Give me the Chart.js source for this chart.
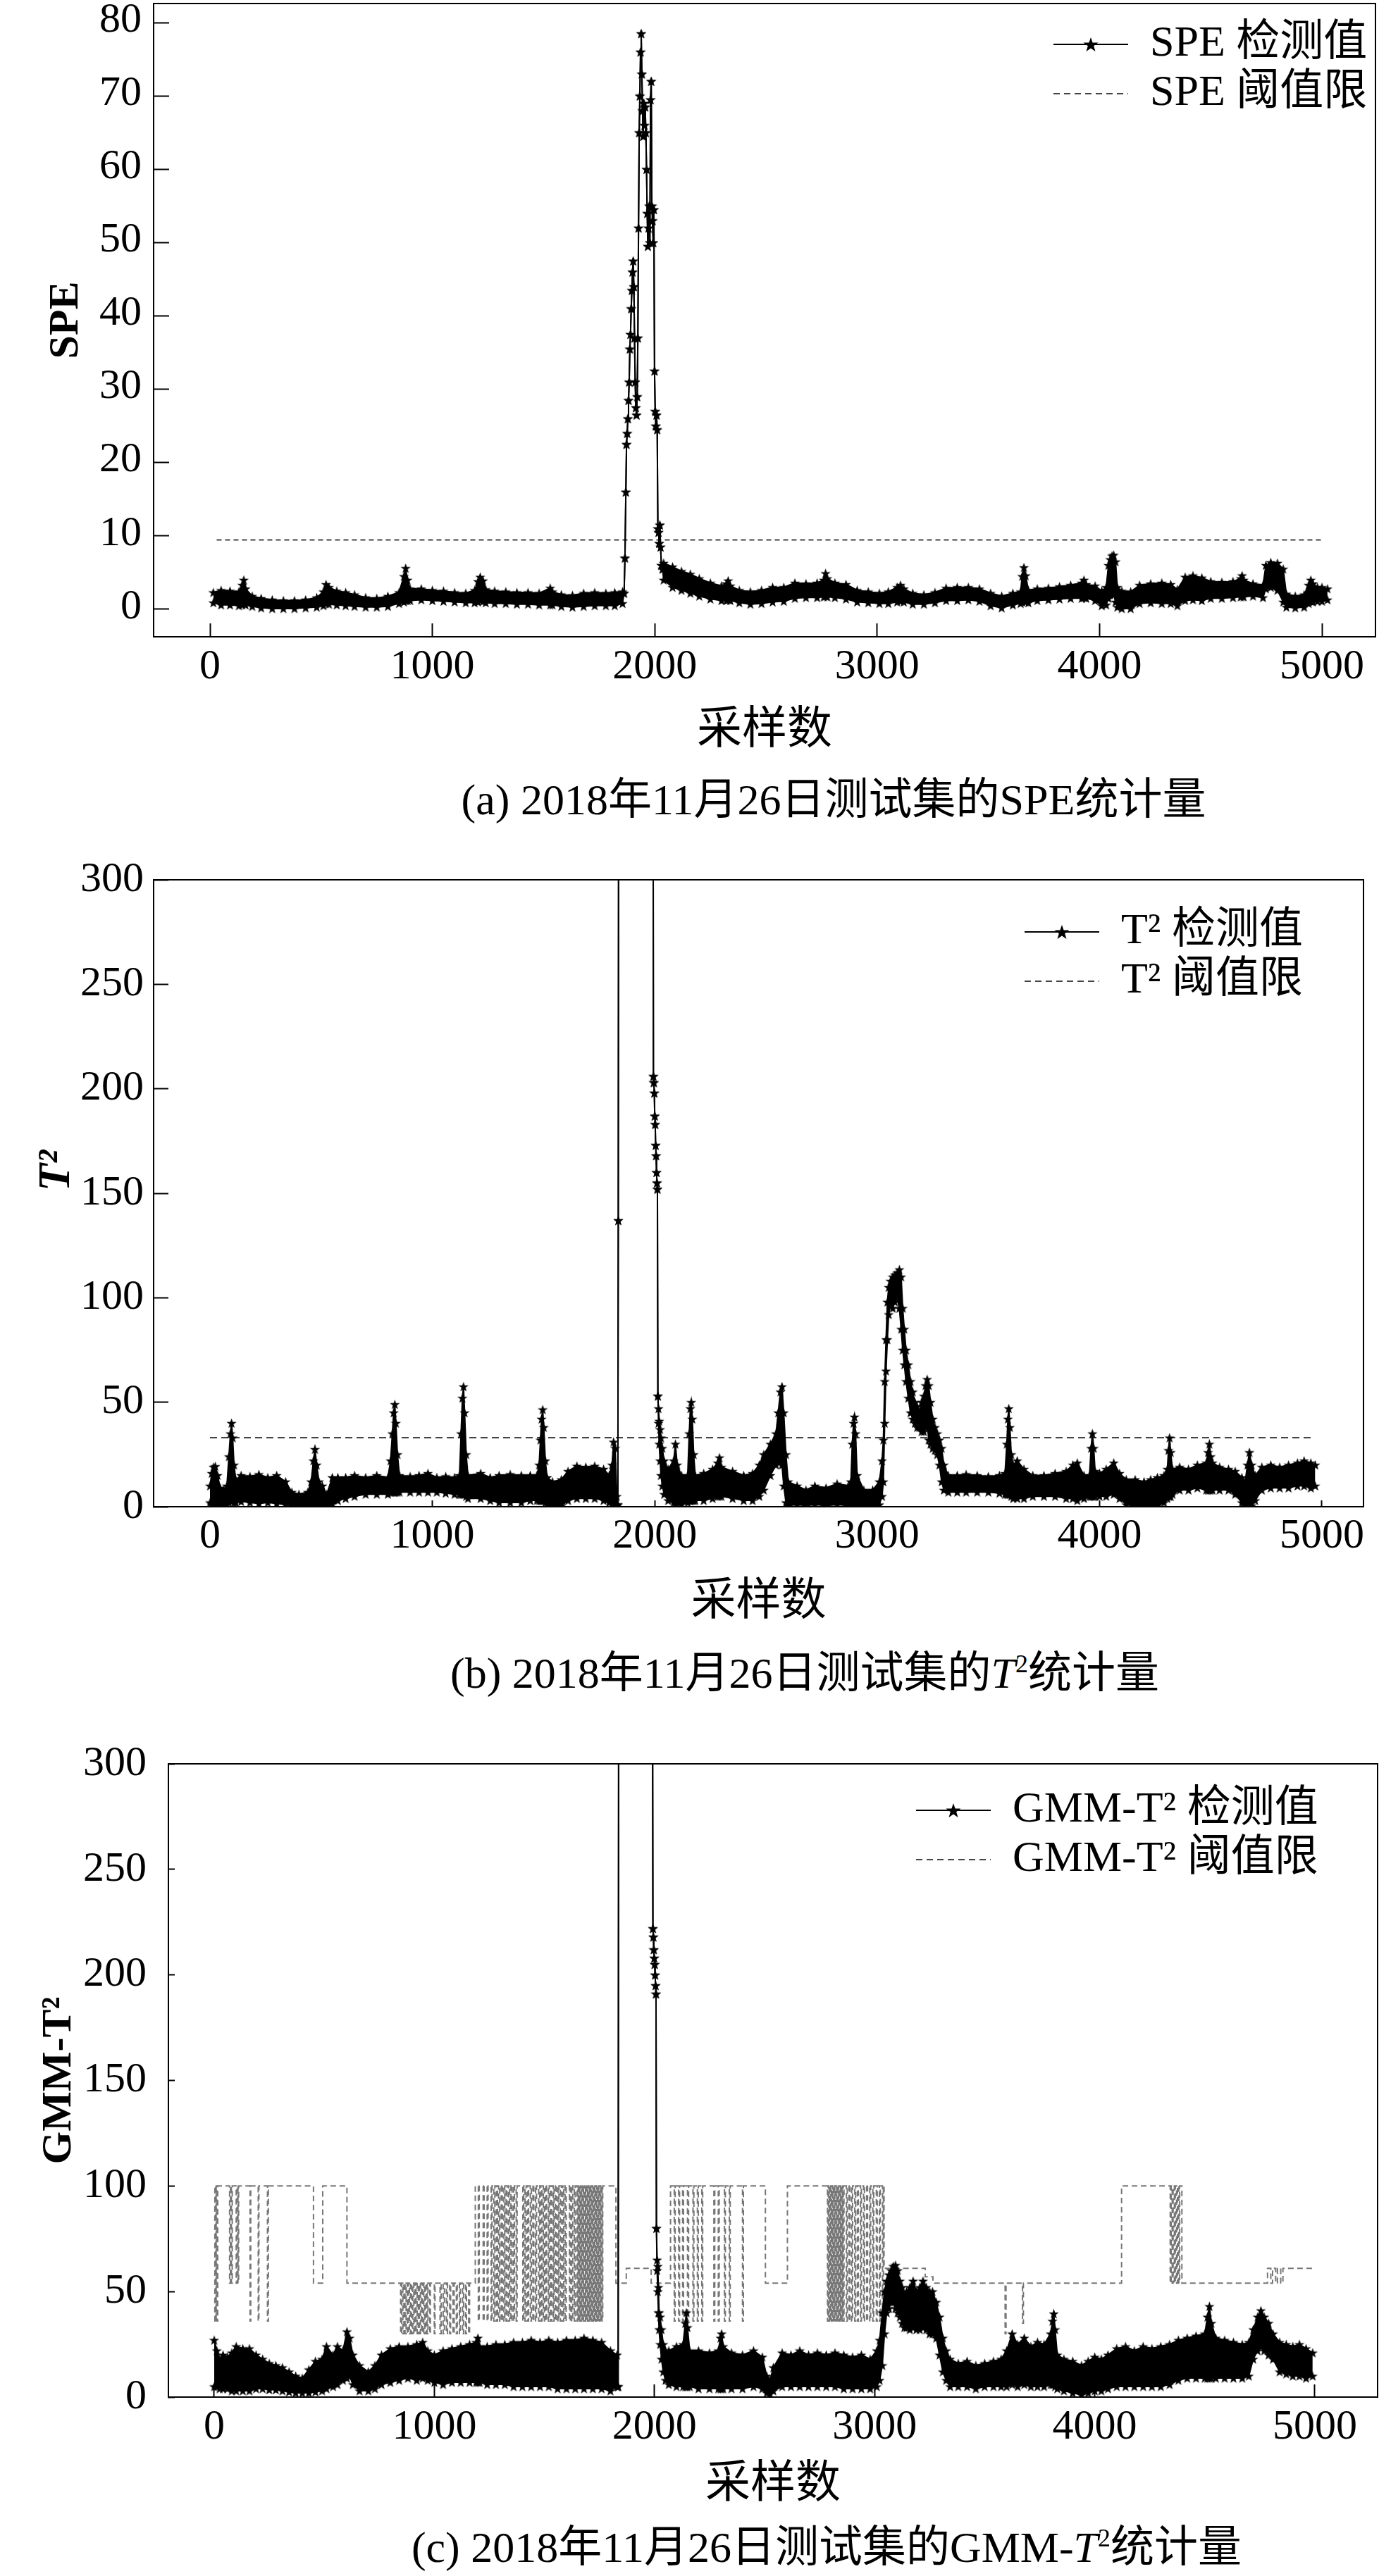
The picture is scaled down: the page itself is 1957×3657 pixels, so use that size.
<!DOCTYPE html>
<html lang="zh">
<head>
<meta charset="utf-8">
<title>SPE / T2 / GMM-T2 统计量</title>
<script src="https://cdn.jsdelivr.net/npm/chart.js@4.4.1/dist/chart.umd.min.js"></script>
<style>
  html, body { margin:0; padding:0; background:#fff; }
  body { position:relative; width:1957px; height:3657px; overflow:hidden; }
  canvas { position:absolute; left:0; }
  .cap { position:absolute; white-space:nowrap; color:#000; font-family:'Liberation Serif','Noto Sans CJK SC',serif; font-size:62px; line-height:62px; transform:translateX(-50%); }
  .cap sup { font-size:36px; line-height:0; vertical-align:22px; }
</style>
</head>
<body>
<canvas id="chartA" width="1957" height="1110" style="top:0px;width:1957px;height:1110px"></canvas>
<canvas id="chartB" width="1957" height="1130" style="top:1200px;width:1957px;height:1130px"></canvas>
<canvas id="chartC" width="1957" height="1150" style="top:2460px;width:1957px;height:1150px"></canvas>
<div class="cap" style="left:1183px;top:1104px">(a) 2018年11月26日测试集的SPE统计量</div>
<div class="cap" style="left:1142px;top:2344px">(b) 2018年11月26日测试集的<i>T</i><sup>2</sup>统计量</div>
<div class="cap" style="left:1173px;top:3585px">(c) 2018年11月26日测试集的GMM-<i>T</i><sup>2</sup>统计量</div>
<script>
// ---------------- tick labels ----------------
const xTickValues = [0, 1000, 2000, 3000, 4000, 5000];
const speYTicks = [0, 10, 20, 30, 40, 50, 60, 70, 80];
const t2YTicks = [0, 50, 100, 150, 200, 250, 300];
const gmmYTicks = [0, 50, 100, 150, 200, 250, 300];

// ---------------- (a) SPE: sample index, upper / lower edge of the plotted trace ----------------
const speX = [15,50,90,130,145,152,160,190,230,280,
  330,380,430,480,510,522,535,570,610,650,
  700,750,800,850,872,880,888,900,950,1000,
  1050,1100,1150,1190,1205,1215,1228,1240,1280,1330,
  1380,1430,1480,1530,1540,1580,1630,1680,1730,1780,
  1820,1855,
  1862,1866,1870,1873,1876,1879,1882,1885,1888,1891,
  1894,1897,1900,1903,1906,1909,1912,1915,1918,1921,
  1924,1927,1930,1933,1936,1939,1942,1945,1948,1951,
  1954,1957,1960,1963,1966,1969,1972,1975,1978,1981,
  1984,1987,1990,1993,1996,1999,2002,2005,2008,2011,
  2014,2017,2020,2023,2026,2030,2035,
  2040,2080,2120,2160,2200,2250,2300,2322,2330,2340,
  2380,2430,2480,2530,2580,2630,2680,2730,2760,2768,
  2776,2810,2860,2910,2960,3010,3050,3090,3105,3120,
  3160,3210,3260,3310,3360,3410,3460,3510,3560,3610,
  3645,3652,3660,3668,3680,3720,3770,3820,3870,3920,
  3930,3940,3980,4010,4030,4040,4048,4056,4064,4072,
  4080,4100,4140,4180,4230,4280,4320,4350,4385,4420,
  4460,4500,4550,4600,4635,4641,4648,4690,4735,4748,
  4770,4800,4826,4840,4880,4920,4940,4950,4960,4980,
  5000,5025];
const speHi = [2.3,2.6,2.5,2.4,3.3,4.0,2.8,1.8,1.5,1.3,
  1.2,1.2,1.3,1.6,2.4,3.4,3.0,2.5,2.3,2.0,
  1.6,1.5,1.8,2.3,4.5,5.6,4.0,2.8,2.8,2.6,
  2.5,2.3,2.2,2.6,3.8,4.4,3.9,2.7,2.5,2.4,
  2.3,2.3,2.2,2.9,2.4,2.0,1.9,2.2,2.3,2.2,
  2.3,2.4,
  2.2,7,16,22.5,24,26,28.5,31,35.5,37.5,
  41,43.5,46,47.5,44,37,31,27.5,26.5,29,
  37,52,65,70,76,78.5,73,68,64.5,69,
  66,68.5,65,60,54,49.5,52,55,50,69.5,
  72,55,53,50,54.5,32.5,27,25,26.5,24.5,
  11,10.5,9,11.5,8.5,6,5.5,
  6.3,5.8,5.2,4.8,4.2,3.6,3.2,3.5,3.9,3.2,
  2.6,2.4,2.6,3.0,3.0,3.6,3.5,3.6,4.0,4.9,
  4.2,3.6,3.4,2.6,2.4,2.2,2.4,3.0,3.3,2.8,
  2.2,2.0,2.3,2.9,3.0,3.0,2.8,2.2,1.8,2.2,
  2.4,4.5,5.7,4.6,2.6,2.8,2.9,3.1,3.3,3.6,
  4.0,3.4,3.2,2.5,3.0,6.0,6.8,7.3,7.4,6.5,
  3.0,2.5,2.4,3.3,3.5,3.6,3.4,2.7,4.4,4.6,
  4.3,3.8,3.7,3.8,4.2,4.6,4.0,3.5,3.3,6.0,
  6.4,6.3,5.5,2.1,1.8,2.0,3.3,4.0,3.5,3.0,
  3.0,2.8];
const speLo = [0.9,0.6,0.6,0.5,0.6,0.8,0.6,0.4,0.2,0.1,
  0.1,0.1,0.2,0.3,0.5,0.8,0.7,0.6,0.5,0.4,
  0.3,0.3,0.4,0.8,1.0,1.2,1.2,1.2,1.3,1.2,
  1.1,1.0,0.9,0.9,1.0,1.2,1.1,0.9,0.8,0.8,
  0.7,0.7,0.6,0.6,0.6,0.4,0.3,0.4,0.5,0.5,
  0.5,0.8,
  2.2,7,16,22.5,24,26,28.5,31,35.5,37.5,
  41,43.5,46,47.5,44,37,31,27.5,26.5,29,
  37,52,65,70,76,78.5,73,68,64.5,69,
  66,68.5,65,60,54,49.5,52,55,50,69.5,
  72,55,53,50,54.5,32.5,27,25,26.5,24.5,
  11,10.5,9,11.5,8.5,6,5.5,
  4.0,3.0,2.6,2.2,1.8,1.4,1.2,1.2,1.3,1.2,
  0.9,0.7,0.8,1.0,1.1,1.5,1.6,1.6,1.7,1.8,
  1.7,1.6,1.4,1.0,0.9,0.8,0.8,1.0,1.1,1.0,
  0.7,0.7,0.9,1.2,1.2,1.3,1.1,0.5,0.2,0.6,
  0.8,1.0,1.2,1.0,0.9,1.2,1.3,1.4,1.5,1.5,
  1.6,1.5,1.2,0.5,0.6,1.5,2.0,2.2,2.0,1.0,
  0.3,0.1,0.1,0.8,0.9,0.8,0.8,0.5,1.2,1.3,
  1.2,1.5,1.5,1.6,1.7,1.8,1.7,1.8,1.6,2.8,
  3.0,2.6,1.0,0.3,0.2,0.3,0.8,1.1,1.0,1.1,
  1.1,1.3];
const speThrX = [30, 5000];
const speThrY = [9.45, 9.45];

// ---------------- (b) T2 ----------------
const t2X = [0,8,16,24,34,46,62,76,85,92,
  97,102,108,116,140,180,220,260,300,340,
  368,400,440,455,465,472,480,490,505,525,
  550,575,610,650,700,750,800,812,820,826,
  831,836,843,852,900,940,980,1020,1060,1100,
  1122,1129,1135,1140,1145,1152,1160,1217,1260,1300,
  1350,1400,1440,1470,1480,1486,1491,1496,1501,1508,
  1516,1540,1580,1610,1650,1690,1730,1770,1795,1808,
  1815,1822,1829,1834,1836,1838,1992,1994,1996,1998,
  2000,2002,2004,2006,2008,2010,2012,2014,2017,2020,
  2024,2028,2034,2042,2060,2085,2093,2101,2120,2148,
  2155,2160,2164,2169,2175,2182,2220,2260,2283,2291,
  2300,2350,2400,2440,2470,2490,2520,2545,2555,2565,
  2572,2580,2590,2600,2640,2680,2720,2770,2820,2870,
  2882,2888,2894,2898,2903,2910,2940,2980,3010,3022,
  3028,3034,3040,3046,3052,3060,3070,3080,3090,3100,
  3108,3115,3122,3130,3140,3150,3160,3170,3180,3190,
  3200,3210,3218,3225,3232,3240,3250,3260,3270,3280,
  3290,3300,3320,3360,3400,3450,3500,3550,3575,3583,
  3588,3592,3597,3603,3612,3630,3660,3700,3750,3800,
  3850,3880,3900,3930,3955,3962,3968,3974,3980,4000,
  4030,4064,4090,4120,4160,4200,4230,4260,4290,4305,
  4310,4315,4320,4328,4360,4400,4440,4480,4488,4494,
  4500,4508,4540,4580,4610,4640,4655,4665,4674,4684,
  4700,4730,4770,4810,4850,4890,4920,4950,4970];
const t2Hi = [10,16,19,19.3,15,9,8,10,24,35,
  40,33,20,13,15,14.5,15.5,14,15,12,
  7,6,7,12,22,27.5,20,12,10,6,
  14,14,14,15,14,15,14,22,35,45,
  49,40,25,15,14.5,15,16,14,14.5,14,
  15,35,52,57.5,45,25,15,16,14,15,
  15.5,15,15,15,20,32,42,46.5,38,22,
  14,12,13,17,19.5,19,19.5,18,15,20,
  31,28,5,1,137,420,420,206,203,198,
  187,183,173,168,160,155,152,53,47,41,
  37,33,28,22,18,22,30,20,15,15,
  35,47,50,42,25,15,16,18,21,23.5,
  19,17,15,16,20,25,30,35,45,55,
  57.5,45,25,12,10,8,10,9,11,10,
  12,30,40,43,35,15,8,8,12,22,
  32,60,80,98,105,108,110,111,112,113.5,
  110,95,85,75,68,60,55,50,48,45,
  50,53,58,61,58,50,42,38,35,32,
  28,20,15,15,15.5,15,14.5,15,16,30,
  42,47,38,25,20,22,18,15,15,16,
  17,20,21,15,15,28,35,28,17,16,
  18,21,16,13,13,12,13,14,15,18,
  27,33,26,18,19,18,20,21,26,30,
  24,21,19,18,17,14,12,20,26,20,
  15,19,20,19,20,21,22,21,20];
const t2Lo = [2,1,1,1,0.8,0.5,0.4,1,2,3,
  3,3,2,2,2.5,2,1.5,2,1.5,1,
  0.5,0.2,0.3,1,1.5,2,1.5,1,0.5,0.2,
  1.5,3,4,5,6,6,6,7,7,7,
  7,7,7,7,7,7,7,7,6.5,6,
  6,6,6,6,6,5,4,4,3,2,
  2,2,3,3,3,3,3,3,3,2,
  1,0.3,0.5,3,4,4,4,3,2,1.5,
  1,0.5,0.3,1,137,420,420,206,203,198,
  187,183,173,168,160,155,152,53,40,30,
  22,15,10,6,3,2,2,2,1,2,
  3,3,3,3,3,3,3,4,5,5,
  5,4,3,3,5,8,15,20,22,22,
  20,10,2,0.5,1,0.5,1,0.5,1,0.5,
  1,1,1,1,1,0.5,0.5,0.2,1,5,
  12,40,65,80,92,97,95,98,100,95,
  85,75,68,60,52,45,42,40,38,38,
  36,36,38,40,32,30,28,27,25,20,
  12,8,7,7,7,7,7,6.5,6,6,
  6,6,6,5,4,4,4,5,5,5,
  4,4,3,4,5,5,5,5,5,5,
  5,6,4,1,0.3,0,0,0.5,2,4,
  5,5,5,6,8,8,9,8,8,8,
  8,8,8,8,6,2,0.3,0.5,1,0.5,
  3,8,9,9,9,10,10,9,10];
const t2ThrX = [0, 4952];
const t2ThrY = [33, 33];

// ---------------- (c) GMM-T2 ----------------
const gmmX = [0,12,25,40,60,80,100,130,160,190,
  220,250,280,310,340,370,400,430,460,490,
  510,540,560,585,603,615,630,660,700,730,
  760,800,840,880,920,947,970,1000,1040,1080,
  1120,1160,1190,1198,1206,1240,1280,1320,1360,1400,
  1440,1480,1520,1560,1600,1640,1680,1720,1760,1800,
  1830,1835,1838,1990,1993,1995,1997,1999,2001,2003,
  2005,2007,2009,2012,2015,2018,2021,2026,2032,2040,
  2050,2065,2100,2130,2140,2145,2150,2160,2200,2250,
  2290,2300,2305,2312,2350,2400,2450,2490,2510,2525,
  2540,2580,2620,2660,2700,2740,2780,2820,2860,2900,
  2940,2980,3010,3023,3035,3045,3055,3065,3075,3085,
  3095,3105,3115,3125,3135,3145,3160,3175,3190,3205,
  3220,3235,3250,3263,3280,3295,3310,3325,3343,3380,
  3420,3460,3500,3540,3575,3600,3625,3650,3680,3710,
  3740,3770,3800,3808,3814,3820,3830,3860,3900,3940,
  3970,4000,4030,4060,4100,4140,4180,4220,4260,4300,
  4340,4380,4420,4460,4500,4512,4521,4530,4550,4590,
  4630,4670,4700,4720,4740,4755,4770,4790,4810,4840,
  4870,4900,4930,4960,4990];
const gmmHi = [27,22,18,20,19,21,24,23,23,20,
  18,16,15,14,12,10,9,13,17,18,
  24,20,24,22,31,28,20,15,12,15,
  20,23,24,24,25,26,22,20,22,23,
  24,25,26,28,24,24,25,25,26,26,
  27,26,27,26,27,27,28,27,26,22,
  20,5,420,420,222,218,212,208,205,200,
  195,191,80,65,62,52,40,38,32,25,
  22,22,24,25,35,40,33,22,22,21,
  22,28,30,24,21,20,22,19,10,8,
  14,21,20,22,20,21,20,21,20,19,
  20,18,22,27,40,50,55,58,60,62,
  62.5,60,55,52,48,50,52,55,50,52,
  55,52,50,50,45,38,28,22,18,16,
  17,15,16,17,18,22,30,25,28,24,
  26,25,30,36,39.5,32,20,18,17,15,
  17,19,18,20,23,24,22,24,23,24,
  25,27,28,29,30,38,43,35,28,27,
  26,25,26,32,38,41,38,35,30,26,
  25,24,25,23,21];
const gmmLo = [5,5,4,4,4,3,3,3,3,4,
  4,3.5,3.5,3,2.5,2,2,2,2.5,3,
  4,5,6,8,9,10,6,3,3,4,
  6,7,8,9,8,9,8,7,6,7,
  7,7,7,7,7,6,6,6,5,5,
  5,5,5,4,4,4,4,4,4,3,
  5,5,420,420,222,218,212,208,205,200,
  195,191,80,60,50,40,32,25,18,12,
  8,6,5,5,5,5,5,5,4,4,
  4,4,4,4,4,4,5,4,2,1.5,
  3,5,5,5,5,5,5,5,4,4,
  4,4,5,8,15,30,40,42,45,45,
  42,40,38,35,33,33,32,33,32,32,
  33,32,30,30,28,20,12,8,5,5,
  5,4,5,5,5,5,6,5,6,5,
  5,5,6,6,6,5,4,3,2,1,
  2,3,3,4,5,5,5,5,5,5,
  6,8,9,9,9,9,9,9,9,9,
  9,9,10,18,22,24,22,20,18,12,
  11,10,10,9,10];
// threshold: value switches to gmmThrY[i] at sample gmmThrX[i]
const gmmThrX = [0,3,6,9,12,16,70,74,78,82,
  100,104,108,111,163,166,200,203,242,246,
  451,493,603,847,852,857,862,867,872,877,
  882,887,892,897,902,907,912,917,922,927,
  932,937,942,947,952,957,962,967,971,979,
  982,1000,1003,1026,1031,1040,1046,1055,1060,1070,
  1074,1085,1090,1100,1104,1114,1118,1128,1133,1142,
  1146,1156,1160,1186,1200,1204,1222,1226,1240,1244,
  1258,1262,1270,1275,1282,1287,1292,1297,1304,1309,
  1316,1320,1326,1331,1338,1342,1348,1353,1360,1364,
  1372,1376,1402,1406,1412,1417,1424,1428,1436,1441,
  1448,1452,1460,1464,1474,1479,1484,1489,1495,1500,
  1506,1510,1518,1522,1528,1533,1540,1544,1550,1555,
  1562,1566,1572,1577,1584,1588,1594,1599,1614,1618,
  1624,1629,1636,1640,1648,1651,1654,1657,1660,1663,
  1666,1669,1672,1675,1678,1681,1684,1687,1690,1693,
  1696,1699,1702,1705,1708,1711,1714,1717,1720,1723,
  1726,1729,1732,1735,1738,1741,1744,1747,1750,1753,
  1756,1759,1762,1765,1825,1872,1985,2073,2090,2094,
  2110,2114,2128,2132,2150,2155,2175,2179,2195,2199,
  2215,2219,2270,2274,2290,2294,2318,2322,2340,2344,
  2400,2404,2504,2604,2786,2789,2792,2795,2798,2801,
  2804,2807,2810,2813,2816,2819,2822,2825,2828,2831,
  2834,2837,2840,2843,2846,2849,2852,2855,2858,2861,
  2872,2876,2884,2888,2896,2900,2910,2914,2922,2926,
  2936,2940,2950,2954,2964,2968,2978,2982,2992,2996,
  3008,3012,3022,3026,3036,3040,3043,3230,3265,3593,
  3597,3672,3676,4122,4343,4347,4352,4356,4362,4366,
  4372,4376,4382,4386,4396,4785,4800,4808,4822,4830,
  4845,4855,4990];
const gmmThrY = [36,100,36,100,36,100,54,100,54,100,
  54,100,54,100,36,100,36,100,36,100,
  54,100,54,30,54,30,54,30,54,30,
  54,30,54,30,54,30,54,30,54,30,
  54,30,54,30,54,30,54,30,54,30,
  54,30,54,30,54,30,54,30,54,30,
  54,30,54,30,54,30,54,30,54,30,
  54,30,54,100,36,100,36,100,36,100,
  36,100,36,100,36,100,36,100,36,100,
  36,100,36,100,36,100,36,100,36,100,
  36,100,36,100,36,100,36,100,36,100,
  36,100,36,100,36,100,36,100,36,100,
  36,100,36,100,36,100,36,100,36,100,
  36,100,36,100,36,100,36,100,36,100,
  36,100,36,100,36,100,36,100,36,100,
  36,100,36,100,36,100,36,100,36,100,
  36,100,36,100,36,100,36,100,36,100,
  36,100,36,100,36,100,36,100,36,100,
  36,100,36,100,54,61,54,100,36,100,
  36,100,36,100,36,100,36,100,36,100,
  36,100,36,100,36,100,36,100,36,100,
  36,100,54,100,36,100,36,100,36,100,
  36,100,36,100,36,100,36,100,36,100,
  36,100,36,100,36,100,36,100,36,100,
  36,100,36,100,36,100,36,100,36,100,
  36,100,36,100,36,100,36,100,36,100,
  36,100,36,100,36,100,61,57,54,30,
  54,35,54,100,54,100,54,100,54,100,
  54,100,54,100,54,61,54,61,54,61,
  54,61,61];

// ---------------- rendering helpers ----------------
const FONT = "'Liberation Serif', 'Noto Sans CJK SC', serif";
const W = 1957;
Chart.defaults.font.family = FONT;
Chart.defaults.color = '#000';

function makeStar(d) {
  const c = document.createElement('canvas');
  c.width = d; c.height = d;
  const g = c.getContext('2d');
  const R = d / 2, r = R * 0.4, cx = d / 2, cy = d / 2 + R * 0.09;
  g.beginPath();
  for (let i = 0; i < 10; i++) {
    const a = -Math.PI / 2 + i * Math.PI / 5, rr = i % 2 ? r : R;
    g.lineTo(cx + rr * Math.cos(a), cy + rr * Math.sin(a));
  }
  g.closePath();
  g.fillStyle = '#000';
  g.fill();
  return c;
}
function makeLegendSymbol(dashed, color) {
  const c = document.createElement('canvas');
  c.width = 106; c.height = 24;
  const g = c.getContext('2d');
  g.strokeStyle = color; g.lineWidth = 2;
  if (dashed) g.setLineDash([9, 6]);
  g.beginPath(); g.moveTo(0, 12); g.lineTo(106, 12); g.stroke();
  if (!dashed) { const s = makeStar(22); g.drawImage(s, 53 - 11, 12 - 11); }
  return c;
}
const dataStar = makeStar(15);
const legendSolid = makeLegendSymbol(false, '#000');
const legendDash = makeLegendSymbol(true, '#444');

const legendPlace = {
  id: 'legendPlace',
  afterLayout(chart, args, opts) {
    const lg = chart.legend;
    if (!lg || opts.x == null) return;
    lg.left = opts.x; lg.top = opts.y;
    lg.right = opts.x + lg.width; lg.bottom = opts.y + lg.height;
  }
};

function toPts(xs, ys) { return xs.map((x, i) => ({ x: x, y: ys[i] })); }

function panel(id, p) {
  return new Chart(document.getElementById(id), {
    type: 'line',
    data: {
      datasets: [
        { label: p.names[0], data: toPts(p.X, p.Hi), xAxisID: 'x', yAxisID: 'y',
          borderColor: '#000', backgroundColor: '#000', borderWidth: 2, fill: '+1',
          pointStyle: dataStar, pointRadius: 7, tension: 0, order: 1 },
        { label: p.names[0] + ' (下沿)', data: toPts(p.X, p.Lo), xAxisID: 'x', yAxisID: 'y',
          borderColor: '#000', backgroundColor: '#000', borderWidth: 2, fill: false,
          pointStyle: dataStar, pointRadius: 7, tension: 0, order: 1 },
        { label: p.names[1], data: toPts(p.ThrX, p.ThrY), xAxisID: 'x', yAxisID: 'y',
          borderColor: p.thrColor, borderWidth: 2, borderDash: p.thrDash, pointRadius: 0,
          fill: false, stepped: p.stepped ? 'before' : false, tension: 0, order: 2 }
      ]
    },
    options: {
      responsive: false, animation: false, events: [], devicePixelRatio: 1,
      layout: { padding: { top: p.fTop, right: W - p.fRight, bottom: 0, left: 0 }, autoPadding: false },
      plugins: {
        tooltip: { enabled: false },
        legendPlace: { x: p.legX, y: p.legY },
        legend: {
          position: 'chartArea', align: 'start',
          labels: {
            usePointStyle: true, pointStyleWidth: 106, padding: 8, color: '#000', textAlign: 'left',
            font: { family: FONT, size: 62, lineHeight: 1 },
            generateLabels: () => [
              { text: p.names[0], pointStyle: legendSolid, fillStyle: '#000', strokeStyle: '#000', lineWidth: 0, hidden: false, datasetIndex: 0, fontColor: '#000' },
              { text: p.names[1], pointStyle: legendDash, fillStyle: '#000', strokeStyle: '#000', lineWidth: 0, hidden: false, datasetIndex: 2, fontColor: '#000' }
            ]
          }
        }
      },
      scales: {
        x: {
          type: 'linear', position: 'bottom', min: p.xMin, max: p.xMax,
          afterBuildTicks: s => { s.ticks = xTickValues.map(v => ({ value: v })); },
          afterFit: s => { s.height = p.H - p.fBottom; s.paddingLeft = 0; s.paddingRight = 0; },
          ticks: { autoSkip: false, maxRotation: 0, padding: p.xTickPad, color: '#000',
                   font: { family: FONT, size: 60, lineHeight: 1 }, callback: v => String(v) },
          grid: { display: true, drawOnChartArea: false, drawTicks: true, tickLength: -p.xTickLen, tickWidth: 2, tickColor: '#000' },
          border: { display: true, width: 2, color: '#000' },
          title: { display: true, text: '采样数', color: '#000',
                   font: { family: FONT, size: 64, lineHeight: 1 }, padding: { top: 0, bottom: p.xTitlePad } }
        },
        y: {
          type: 'linear', position: 'left', min: p.yMin, max: p.yMax,
          afterBuildTicks: s => { s.ticks = p.yTicks.map(v => ({ value: v })); },
          afterFit: s => { s.width = p.fLeft; s.paddingTop = 0; s.paddingBottom = 0; },
          ticks: { autoSkip: false, padding: p.yTickPad, labelOffset: p.yLabelOffset, color: '#000',
                   font: { family: FONT, size: 60, lineHeight: 1 }, callback: v => String(v) },
          grid: { display: true, drawOnChartArea: false, drawTicks: true, tickLength: -p.yTickLen, tickWidth: 2, tickColor: '#000' },
          border: { display: true, width: 2, color: '#000' },
          title: { display: true, text: p.yTitle, color: '#000',
                   font: { family: FONT, size: p.yTitleSize, weight: 'bold', style: p.yTitleStyle, lineHeight: 1 },
                   padding: { top: p.yTitlePad, bottom: 0 } }
        },
        xTop: {
          type: 'linear', position: 'top', min: 0, max: 1, display: true,
          ticks: { display: false },
          grid: { display: true, drawOnChartArea: false, drawTicks: false },
          border: { display: true, width: 2, color: '#000' },
          afterFit: s => { s.height = 0; }
        },
        yRight: {
          type: 'linear', position: 'right', min: 0, max: 1, display: true,
          ticks: { display: false },
          grid: { display: true, drawOnChartArea: false, drawTicks: false },
          border: { display: true, width: 2, color: '#000' },
          afterFit: s => { s.width = 0; }
        }
      }
    },
    plugins: [legendPlace]
  });
}

panel('chartA', {
  names: ['SPE 检测值', 'SPE 阈值限'],
  X: speX, Hi: speHi, Lo: speLo, ThrX: speThrX, ThrY: speThrY,
  thrColor: '#444', thrDash: [7, 5], stepped: false,
  H: 1110, fLeft: 218, fRight: 1952, fTop: 5, fBottom: 904,
  xMin: -253.5, xMax: 5240.8, yMin: -3.75, yMax: 82.6, yTicks: speYTicks,
  xTickLen: 19, yTickLen: 22, xTickPad: 32, yTickPad: 39, yLabelOffset: -3,
  xTitlePad: 40, yTitle: 'SPE', yTitleSize: 60, yTitleStyle: 'normal', yTitlePad: 64,
  legX: 1487, legY: 24
});
panel('chartB', {
  names: ['T² 检测值', 'T² 阈值限'],
  X: t2X, Hi: t2Hi, Lo: t2Lo, ThrX: t2ThrX, ThrY: t2ThrY,
  thrColor: '#444', thrDash: [10, 6], stepped: false,
  H: 1130, fLeft: 218, fRight: 1935, fTop: 49, fBottom: 939,
  xMin: -253.5, xMax: 5187, yMin: 0, yMax: 300, yTicks: t2YTicks,
  xTickLen: 9, yTickLen: 21, xTickPad: 21, yTickPad: 35, yLabelOffset: 0,
  xTitlePad: 23, yTitle: '    T²', yTitleSize: 64, yTitleStyle: 'italic', yTitlePad: 49,
  legX: 1446, legY: 84
});
panel('chartC', {
  names: ['GMM-T² 检测值', 'GMM-T² 阈值限'],
  X: gmmX, Hi: gmmHi, Lo: gmmLo, ThrX: gmmThrX, ThrY: gmmThrY,
  thrColor: '#777', thrDash: [8, 5], stepped: true,
  H: 1150, fLeft: 239, fRight: 1955, fTop: 44, fBottom: 943,
  xMin: -208, xMax: 5285, yMin: 0, yMax: 300, yTicks: gmmYTicks,
  xTickLen: 18, yTickLen: 9, xTickPad: 31, yTickPad: 40, yLabelOffset: 0,
  xTitlePad: 50, yTitle: 'GMM-T²', yTitleSize: 60, yTitleStyle: 'normal', yTitlePad: 54,
  legX: 1292, legY: 71
});
</script>
</body>
</html>
